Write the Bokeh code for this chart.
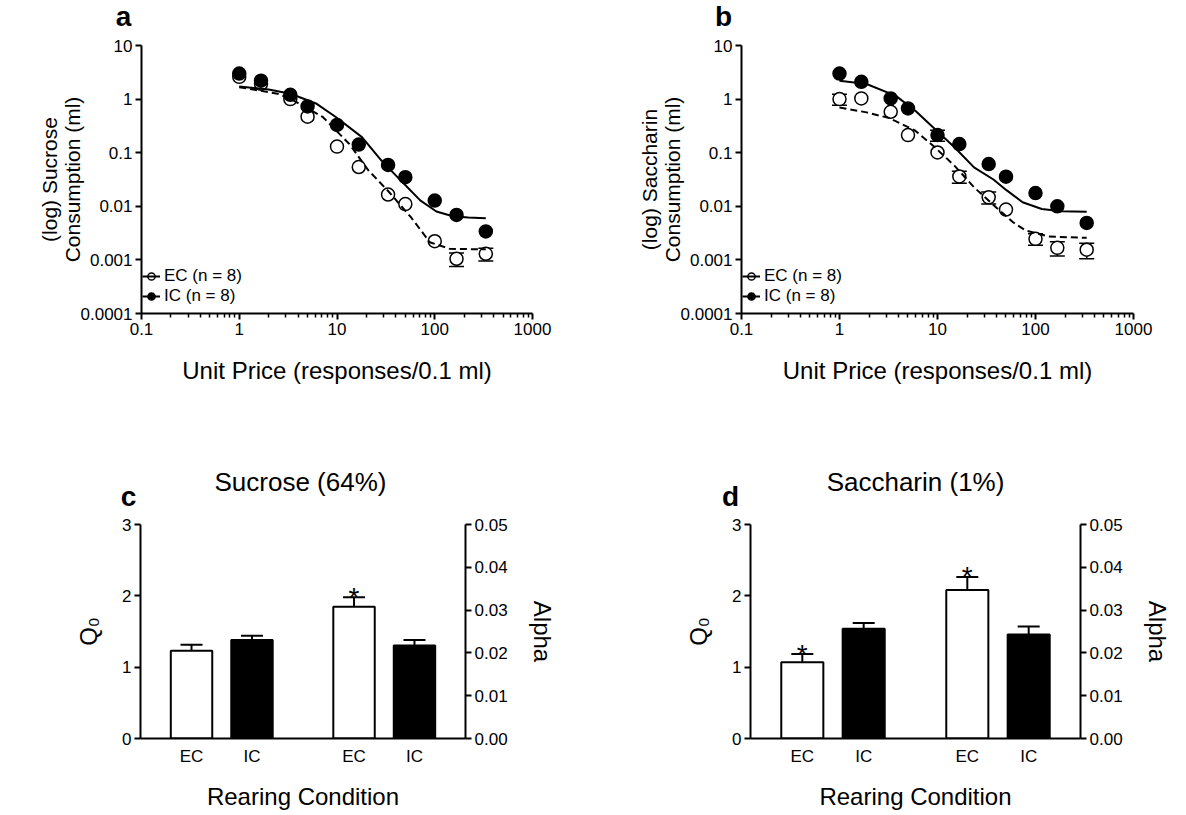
from bokeh.plotting import figure
from bokeh.layouts import column, row
from bokeh.models import (Range1d, LinearAxis, FixedTicker, CustomJSTickFormatter,
                          PrintfTickFormatter, Whisker, TeeHead, Label, ColumnDataSource,
                          Legend, LegendItem)
from bokeh.embed import file_html
from bokeh.resources import INLINE
from bokeh.core.properties import value

FONT = "Liberation Sans"

# ------------------------------------------------------------------ data
unit_price = [1, 1.67, 3.33, 5, 10, 16.7, 33.3, 50, 100, 167, 333]

# panel a : sucrose consumption (ml)
sucrose_ec = [2.6, 1.93, 1.0, 0.47, 0.13, 0.054, 0.0166, 0.011, 0.00223, 0.00105, 0.0013]
sucrose_ic = [3.0, 2.2, 1.2, 0.73, 0.33, 0.142, 0.059, 0.035, 0.0128, 0.0069, 0.0034]
sucrose_ec_sem = [0, 0, 0, 0, 0, 0, 0, 0, 0, 0.0003, 0.00035]
sucrose_ic_sem = [0, 0, 0, 0, 0, 0, 0, 0, 0, 0, 0]
sucrose_ic_fit_x = [1, 2, 3.35, 6.2, 9.8, 18, 28.5, 45, 71, 104, 153, 220, 333]
sucrose_ic_fit_y = [1.72, 1.51, 1.26, 0.817, 0.459, 0.195, 0.0714, 0.0302, 0.0129,
                    0.0080, 0.00653, 0.00617, 0.0060]
sucrose_ec_fit_x = [1, 2.47, 3.35, 7.2, 13.3, 21, 33, 57, 89, 142, 220, 333]
sucrose_ec_fit_y = [1.67, 1.26, 1.01, 0.459, 0.147, 0.0466, 0.0197, 0.00627, 0.00214,
                    0.00161, 0.00159, 0.00158]

# panel b : saccharin consumption (ml)
saccharin_ec = [1.0, 1.03, 0.58, 0.213, 0.101, 0.036, 0.0147, 0.0087, 0.00247, 0.00168, 0.00155]
saccharin_ic = [3.0, 2.1, 1.03, 0.67, 0.213, 0.145, 0.0615, 0.0357, 0.0177, 0.0100, 0.0049]
saccharin_ec_sem = [0.23, 0, 0, 0, 0, 0.009, 0.0037, 0, 0.0006, 0.0005, 0.0005]
saccharin_ic_sem = [0, 0, 0, 0, 0.05, 0, 0, 0, 0, 0, 0]
saccharin_ic_fit_x = [1, 1.89, 3.76, 5.94, 9.4, 14.9, 23.6, 37.2, 50.5, 73.8, 116, 184, 333]
saccharin_ic_fit_y = [2.2, 1.91, 1.15, 0.607, 0.276, 0.126, 0.0533, 0.0316, 0.020, 0.0119,
                      0.0089, 0.0081, 0.0079]
saccharin_ec_fit_x = [1, 1.89, 3.22, 5.94, 9.4, 14.9, 23.6, 40.3, 59, 79.6, 136, 333]
saccharin_ec_fit_y = [0.70, 0.565, 0.443, 0.257, 0.126, 0.0573, 0.0226, 0.0093, 0.00504,
                      0.00352, 0.00273, 0.00258]

x_ticks_log = [0.1, 1, 10, 100, 1000]
y_ticks_log = [0.0001, 0.001, 0.01, 0.1, 1, 10]

# panels c, d : Q0 (left axis) and alpha (right axis)
conditions = ["EC", "IC"]
q0_ticks = [0, 1, 2, 3]
alpha_ticks = [0.00, 0.01, 0.02, 0.03, 0.04, 0.05]

sucrose_q0 = [1.23, 1.38]
sucrose_q0_sem = [0.084, 0.06]
sucrose_alpha = [0.0308, 0.0217]
sucrose_alpha_sem = [0.0022, 0.0013]
sucrose_q0_star = ["", ""]
sucrose_alpha_star = ["*", ""]

saccharin_q0 = [1.07, 1.54]
saccharin_q0_sem = [0.114, 0.08]
saccharin_alpha = [0.0347, 0.0243]
saccharin_alpha_sem = [0.00305, 0.00185]
saccharin_q0_star = ["*", ""]
saccharin_alpha_star = ["*", ""]


# ------------------------------------------------------------------ helpers
def style_axis(ax, label_size="24px"):
    ax.axis_line_width = 2
    ax.axis_line_color = "black"
    ax.major_tick_line_width = 2
    ax.major_tick_line_color = "black"
    ax.major_tick_out = 6
    ax.major_tick_in = 0
    ax.minor_tick_line_color = None
    ax.major_label_text_font = FONT
    ax.major_label_text_font_size = "17px"
    ax.major_label_text_color = "black"
    ax.major_label_standoff = 3
    ax.axis_label_text_font = FONT
    ax.axis_label_text_font_style = "normal"
    ax.axis_label_text_font_size = label_size
    ax.axis_label_text_color = "black"


def base_fig(width, height, **kw):
    p = figure(width=width, height=height, output_backend="svg", toolbar_location=None, **kw)
    p.outline_line_color = None
    p.grid.visible = False
    p.background_fill_color = "white"
    p.border_fill_color = "white"
    return p


def header(width, height, texts):
    p = base_fig(width, height, x_range=Range1d(0, width), y_range=Range1d(0, height),
                 min_border=0, min_border_left=0, min_border_right=0,
                 min_border_top=0, min_border_bottom=0)
    p.axis.visible = False
    for x, y_top, text, size, bold in texts:
        p.add_layout(Label(x=x, y=height - y_top, text=text, text_font=FONT,
                           text_font_size=size, text_font_style="bold" if bold else "normal",
                           text_align="center", text_baseline="middle", text_color="black"))
    return p


def demand_panel(width, height, b_left, b_right, b_top, b_bottom, ylabel,
                 ec, ic, ec_sem, ic_sem, ec_fx, ec_fy, ic_fx, ic_fy):
    p = base_fig(width, height, x_axis_type="log", y_axis_type="log",
                 x_range=Range1d(x_ticks_log[0], x_ticks_log[-1]),
                 y_range=Range1d(y_ticks_log[0], y_ticks_log[-1]),
                 min_border_left=b_left, min_border_right=b_right,
                 min_border_top=b_top, min_border_bottom=b_bottom)

    xa = p.xaxis[0]
    style_axis(xa)
    xa.ticker = FixedTicker(ticks=x_ticks_log,
                            minor_ticks=[m * d for d in x_ticks_log[:-1] for m in range(2, 10)])
    xa.formatter = CustomJSTickFormatter(code="return tick.toString()")
    xa.minor_tick_line_color = "black"
    xa.minor_tick_line_width = 1.5
    xa.minor_tick_out = 4
    xa.minor_tick_in = 0
    xa.axis_label = "Unit Price (responses/0.1 ml)"
    xa.axis_label_standoff = 19

    ya = p.yaxis[0]
    style_axis(ya, label_size="21px")
    ya.ticker = FixedTicker(ticks=y_ticks_log)
    ya.formatter = CustomJSTickFormatter(code="return tick.toString()")
    ya.axis_label = ylabel
    ya.axis_label_text_line_height = 1.0
    ya.axis_label_standoff = -6

    # error bars
    for vals, sems in ((ec, ec_sem), (ic, ic_sem)):
        xs = [x for x, s in zip(unit_price, sems) if s > 0]
        if not xs:
            continue
        lo = [v - s for v, s in zip(vals, sems) if s > 0]
        hi = [v + s for v, s in zip(vals, sems) if s > 0]
        src = ColumnDataSource(dict(x=xs, lo=lo, hi=hi))
        p.add_layout(Whisker(base="x", lower="lo", upper="hi", source=src,
                             line_color="black", line_width=1.5,
                             upper_head=TeeHead(size=15, line_width=1.5, line_color="black"),
                             lower_head=TeeHead(size=15, line_width=1.5, line_color="black")))

    ec_r = p.scatter(unit_price, ec, size=13, marker="circle", fill_color="white",
                     line_color="black", line_width=1.5)
    ic_r = p.scatter(unit_price, ic, size=13, marker="circle", fill_color="black",
                     line_color="black", line_width=1.5)
    p.line(ic_fx, ic_fy, line_color="black", line_width=2)
    p.line(ec_fx, ec_fy, line_color="black", line_width=2, line_dash="7 4")

    nan = float("nan")
    leg_ec = p.line([nan], [nan], line_color="black", line_width=2)
    leg_ic = p.line([nan], [nan], line_color="black", line_width=2)
    legend = Legend(items=[LegendItem(label="EC (n = 8)", renderers=[ec_r, leg_ec]),
                           LegendItem(label="IC (n = 8)", renderers=[ic_r, leg_ic])],
                    location=(1, 7), orientation="vertical",
                    glyph_width=18, glyph_height=20, label_height=20, spacing=0,
                    padding=0, margin=0, label_standoff=4,
                    label_text_font=FONT, label_text_font_size="17px",
                    label_text_color="black",
                    background_fill_alpha=0, border_line_alpha=0)
    p.add_layout(legend)
    return p


def bar_panel(width, height, b_left, b_right, b_top, b_bottom,
              q0, q0_sem, alpha, alpha_sem, q0_star, alpha_star):
    p = base_fig(width, height,
                 x_range=Range1d(0, 4), y_range=Range1d(q0_ticks[0], q0_ticks[-1]),
                 min_border_left=b_left, min_border_right=b_right,
                 min_border_top=b_top, min_border_bottom=b_bottom)
    p.extra_y_ranges = {"alpha": Range1d(alpha_ticks[0], alpha_ticks[-1])}

    group_centers = [1, 3]
    offsets = [-0.372, 0.372]
    bar_w = 0.51
    q0_x = [group_centers[0] + o for o in offsets]
    al_x = [group_centers[1] + o for o in offsets]
    fills = ["white", "black"]

    xa = p.xaxis[0]
    style_axis(xa)
    xa.ticker = FixedTicker(ticks=q0_x + al_x)
    xa.formatter = CustomJSTickFormatter(args=dict(labels=conditions + conditions),
                                         code="return labels[index]")
    xa.major_tick_line_color = None
    xa.major_tick_out = 0
    xa.major_label_standoff = 8
    xa.axis_label = "Rearing Condition"
    xa.axis_label_standoff = 14

    ya = p.yaxis[0]
    style_axis(ya)
    ya.ticker = FixedTicker(ticks=q0_ticks)
    ya.axis_label = "Q\u2080"
    ya.axis_label_standoff = 17

    ra = LinearAxis(y_range_name="alpha", ticker=FixedTicker(ticks=alpha_ticks),
                    formatter=PrintfTickFormatter(format="%.2f"))
    style_axis(ra)
    ra.axis_label = "Alpha"
    ra.axis_label_standoff = 18
    p.add_layout(ra, "right")

    # error bars (upper only)
    for xs, vals, sems, rng in ((q0_x, q0, q0_sem, "default"), (al_x, alpha, alpha_sem, "alpha")):
        src = ColumnDataSource(dict(x=xs, lo=vals, hi=[v + s for v, s in zip(vals, sems)]))
        p.add_layout(Whisker(base="x", lower="lo", upper="hi", source=src, y_range_name=rng,
                             line_color="black", line_width=2, lower_head=None,
                             upper_head=TeeHead(size=22, line_width=2, line_color="black")))

    p.vbar(x=q0_x, top=q0, width=bar_w, bottom=0, fill_color=fills,
           line_color="black", line_width=2)
    p.vbar(x=al_x, top=alpha, width=bar_w, bottom=0, fill_color=fills,
           line_color="black", line_width=2, y_range_name="alpha")

    for xs, vals, sems, stars, rng in ((q0_x, q0, q0_sem, q0_star, "default"),
                                       (al_x, alpha, alpha_sem, alpha_star, "alpha")):
        sx = [x for x, s in zip(xs, stars) if s]
        if not sx:
            continue
        sy = [v + e for v, e, s in zip(vals, sems, stars) if s]
        st = [s for s in stars if s]
        p.text(x=sx, y=sy, text=st, y_range_name=rng, text_font=value(FONT),
               text_font_size="28px", text_align="center", text_baseline="middle",
               text_color="black")
    return p


W_L, W_R = 600, 584
H1, H2, H3, H4 = 32, 368, 113, 299

ha = header(W_L, H1, [(123, 16, "a", "28px", True)])
hb = header(W_R, H1, [(123, 16, "b", "28px", True)])
pa = demand_panel(W_L, H2, 141, 68, 13, 87, "(log) Sucrose\nConsumption (ml)",
                  sucrose_ec, sucrose_ic, sucrose_ec_sem, sucrose_ic_sem,
                  sucrose_ec_fit_x, sucrose_ec_fit_y, sucrose_ic_fit_x, sucrose_ic_fit_y)
pb = demand_panel(W_R, H2, 141, 51, 13, 87, "(log) Saccharin\nConsumption (ml)",
                  saccharin_ec, saccharin_ic, saccharin_ec_sem, saccharin_ic_sem,
                  saccharin_ec_fit_x, saccharin_ec_fit_y, saccharin_ic_fit_x, saccharin_ic_fit_y)
hc = header(W_L, H3, [(128, 96, "c", "28px", True), (300, 81, "Sucrose (64%)", "26px", False)])
hd = header(W_R, H3, [(130, 96, "d", "28px", True), (315, 81, "Saccharin (1%)", "26px", False)])
pc = bar_panel(W_L, H4, 140, 135, 11, 72,
               sucrose_q0, sucrose_q0_sem, sucrose_alpha, sucrose_alpha_sem,
               sucrose_q0_star, sucrose_alpha_star)
pd = bar_panel(W_R, H4, 150, 104, 9, 71,
               saccharin_q0, saccharin_q0_sem, saccharin_alpha, saccharin_alpha_sem,
               saccharin_q0_star, saccharin_alpha_star)

layout = column(row(ha, hb), row(pa, pb), row(hc, hd), row(pc, pd))
open("out.html", "w").write(file_html(layout, INLINE))
